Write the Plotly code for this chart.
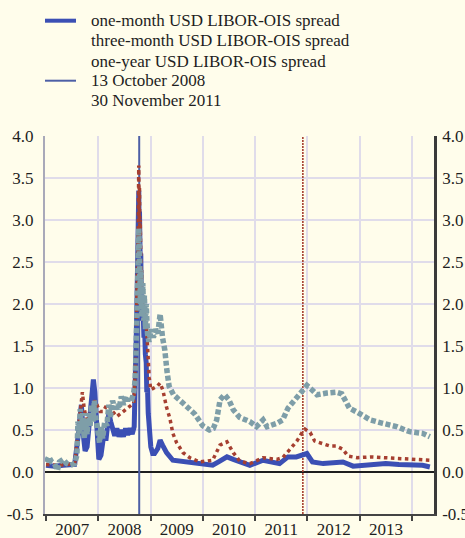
import plotly.graph_objects as go

# ---------------- data ----------------
one_month_dates = ["2007-01-01","2007-03-01","2007-05-01","2007-07-20","2007-08-08","2007-08-20","2007-09-05","2007-09-18",
    "2007-10-01","2007-10-15","2007-10-30","2007-11-10","2007-11-28","2007-12-08","2007-12-20","2008-01-05","2008-01-20",
    "2008-02-05","2008-02-25","2008-03-15","2008-03-28","2008-04-12","2008-04-25","2008-05-10","2008-05-25","2008-06-10",
    "2008-06-25","2008-07-10","2008-07-25","2008-08-10","2008-08-25","2008-09-08","2008-09-18","2008-09-26","2008-10-01",
    "2008-10-06","2008-10-08","2008-10-10","2008-10-13","2008-10-15","2008-10-20","2008-10-24","2008-10-28","2008-10-31",
    "2008-11-05","2008-11-10","2008-11-15","2008-11-20","2008-11-25","2008-12-01","2008-12-05","2008-12-10","2008-12-15",
    "2008-12-22","2009-01-02","2009-01-15","2009-01-28","2009-02-20","2009-03-08","2009-03-25",
    "2009-04-22","2009-06-05","2009-08-01","2009-10-01","2009-12-10","2010-03-10","2010-04-20","2010-06-18","2010-08-01",
    "2010-09-15","2010-11-25","2011-02-25","2011-04-15","2011-06-20","2011-08-18","2011-10-15","2011-12-28","2012-02-05",
    "2012-04-20","2012-06-15","2012-09-05","2012-11-15","2013-01-15","2013-04-01","2013-07-01","2013-10-01","2014-01-15",
    "2014-03-15","2014-05-05"]
one_month = [0.08,0.07,0.08,0.09,0.35,0.55,0.80,0.45,
    0.25,0.30,0.55,0.80,1.10,0.95,0.60,0.15,0.20,
    0.40,0.40,0.70,0.60,0.52,0.43,0.52,0.42,0.50,
    0.42,0.52,0.44,0.52,0.45,0.54,1.10,1.90,2.40,
    2.90,3.30,3.35,2.80,3.10,2.50,2.60,2.00,2.10,
    1.80,1.90,1.60,1.70,1.40,1.30,0.95,1.00,0.70,
    0.50,0.30,0.22,0.22,0.28,0.38,0.32,
    0.23,0.14,0.13,0.12,0.11,0.08,0.12,0.18,0.15,
    0.12,0.08,0.14,0.12,0.10,0.18,0.18,0.22,0.12,
    0.10,0.11,0.12,0.07,0.08,0.09,0.10,0.09,0.09,
    0.08,0.06]

three_month_dates = ["2007-01-01","2007-04-01","2007-07-20","2007-08-09","2007-08-22","2007-09-05","2007-09-12","2007-09-25",
    "2007-10-12","2007-10-25","2007-11-10","2007-11-25","2007-12-10","2007-12-28","2008-01-15","2008-02-05","2008-03-01",
    "2008-03-20","2008-04-10","2008-05-10","2008-06-10","2008-07-10","2008-08-10","2008-09-05","2008-09-17","2008-09-26",
    "2008-10-01","2008-10-03","2008-10-06","2008-10-08","2008-10-10","2008-10-13","2008-10-15","2008-10-17","2008-10-20",
    "2008-10-22","2008-10-24","2008-10-27","2008-10-31","2008-11-05","2008-11-10","2008-11-15","2008-11-20","2008-11-25",
    "2008-12-01","2008-12-08","2008-12-15","2008-12-22","2009-01-02","2009-01-20","2009-02-15","2009-03-08","2009-03-28",
    "2009-04-22","2009-05-15","2009-06-05","2009-07-01","2009-08-15","2009-10-01","2009-12-10","2010-03-10","2010-04-30",
    "2010-06-18","2010-08-01","2010-09-15","2010-11-25","2011-02-25","2011-06-01","2011-07-12","2011-09-01","2011-10-20",
    "2011-11-25","2011-12-15","2012-01-20","2012-02-20","2012-03-25","2012-06-05","2012-07-20","2012-09-05","2012-10-10",
    "2012-12-15","2013-03-15","2013-06-15","2013-09-15","2013-12-15","2014-03-15","2014-05-05"]
three_month = [0.09,0.08,0.10,0.45,0.65,0.92,0.95,0.75,
    0.62,0.65,0.75,0.80,0.85,0.78,0.72,0.72,0.80,
    0.78,0.72,0.66,0.70,0.75,0.78,0.82,1.30,1.90,
    2.40,2.90,2.60,3.30,3.65,3.00,3.40,2.80,3.00,
    2.40,2.70,2.20,2.40,1.90,2.10,1.80,1.90,1.75,
    1.80,1.50,1.30,1.12,0.98,1.00,1.02,1.06,0.97,
    0.77,0.64,0.46,0.35,0.23,0.17,0.12,0.14,0.32,
    0.36,0.23,0.13,0.10,0.17,0.15,0.17,0.27,0.37,
    0.47,0.51,0.47,0.37,0.35,0.31,0.31,0.27,0.19,
    0.17,0.18,0.17,0.16,0.16,0.15,0.14]

one_year_dates = ["2007-01-01","2007-01-20","2007-02-10","2007-03-01","2007-03-22","2007-04-05","2007-05-01","2007-05-25",
    "2007-06-20","2007-07-20","2007-08-05","2007-08-12","2007-08-20","2007-08-28","2007-09-05","2007-09-15","2007-09-25",
    "2007-10-05","2007-10-15","2007-10-25","2007-11-05","2007-11-15","2007-11-25","2007-12-05","2007-12-15","2007-12-28",
    "2008-01-10","2008-01-20","2008-02-01","2008-02-15","2008-03-01","2008-03-15","2008-03-25","2008-04-10","2008-04-25",
    "2008-05-10","2008-05-25","2008-06-10","2008-06-25","2008-07-10","2008-07-25","2008-08-10","2008-08-25","2008-09-05",
    "2008-09-15","2008-09-22","2008-09-26","2008-10-01","2008-10-03","2008-10-06","2008-10-08","2008-10-10","2008-10-13",
    "2008-10-15","2008-10-17","2008-10-20","2008-10-22","2008-10-24","2008-10-27","2008-10-29","2008-10-31","2008-11-03",
    "2008-11-05","2008-11-07","2008-11-10","2008-11-12","2008-11-14","2008-11-18","2008-11-20","2008-11-24","2008-11-26",
    "2008-12-01","2008-12-03","2008-12-05","2008-12-10","2008-12-20","2009-01-05","2009-01-20","2009-02-05","2009-02-20",
    "2009-03-08","2009-03-25","2009-04-10","2009-04-25","2009-05-10","2009-06-10","2009-07-10","2009-08-28","2009-11-05",
    "2009-12-31","2010-02-15","2010-03-15","2010-04-07","2010-05-01","2010-06-01","2010-07-01","2010-08-01","2010-09-15",
    "2010-11-25","2011-01-10","2011-02-25","2011-03-25","2011-06-01","2011-07-12","2011-08-18","2011-10-05","2011-11-10",
    "2011-12-28","2012-02-01","2012-03-08","2012-05-15","2012-07-20","2012-08-28","2012-10-05","2012-10-20","2012-12-15",
    "2013-03-15","2013-06-10","2013-09-15","2013-12-15","2014-03-15","2014-05-05"]
one_year = [0.12,0.18,0.12,0.10,0.02,0.12,0.15,0.10,
    0.08,0.10,0.20,0.60,0.45,0.75,0.50,0.70,0.40,
    0.60,0.45,0.70,0.55,0.80,0.60,0.85,0.65,0.50,
    0.35,0.55,0.40,0.60,0.55,0.80,0.65,0.85,0.75,
    0.80,0.75,0.90,0.80,0.90,0.85,0.90,0.88,0.95,
    1.10,1.50,1.70,2.00,2.50,2.20,2.70,2.90,2.30,
    2.75,2.20,2.60,2.00,2.40,1.90,2.30,1.85,2.20,
    1.90,2.25,1.85,2.20,1.80,2.10,1.75,2.00,1.70,
    2.00,1.70,1.80,1.65,1.55,1.70,1.60,1.70,1.65,
    1.88,1.60,1.45,1.20,1.02,0.92,0.88,0.80,0.69,
    0.55,0.50,0.52,0.62,0.86,0.92,0.86,0.74,0.65,
    0.60,0.54,0.62,0.54,0.58,0.62,0.76,0.86,0.92,
    1.03,0.98,0.92,0.94,0.95,0.93,0.82,0.76,0.71,
    0.62,0.58,0.54,0.48,0.46,0.42]

event_dates = ["2008-10-13", "2011-11-30"]
event_names = ["13 October 2008", "30 November 2011"]
series_names = ["one-month USD LIBOR-OIS spread", "three-month USD LIBOR-OIS spread", "one-year USD LIBOR-OIS spread"]
legend_labels = series_names + event_names

y_tick_vals = [-0.5, 0.0, 0.5, 1.0, 1.5, 2.0, 2.5, 3.0, 3.5, 4.0]
y_tick_text = ["-0.5", "0.0", "0.5", "1.0", "1.5", "2.0", "2.5", "3.0", "3.5", "4.0"]
y_range = [-0.5, 4.0]
x_range = ["2006-12-25", "2014-06-03"]

# ---------------- style ----------------
BG = "#fffdeb"
BLUE = "#3b4fb4"
RED = "#a63f30"
TEAL = "#7e9ea8"
VLINE_BLUE = "#4d5fa6"
FONT = dict(family="Liberation Serif", size=17, color="#1e1e1e")

W, H = 465, 538
ML, MR, MT, MB = 45, 31, 136, 24
PW, PH = W - ML - MR, H - MT - MB

fig = go.Figure()

# vertical event lines (behind data)
fig.add_trace(go.Scatter(x=[event_dates[0], event_dates[0]], y=y_range, mode="lines",
                         line=dict(color=VLINE_BLUE, width=2), showlegend=False, hoverinfo="skip"))
fig.add_trace(go.Scatter(x=[event_dates[1], event_dates[1]], y=y_range, mode="lines",
                         line=dict(color=RED, width=1.6, dash="2px,1px"), showlegend=False, hoverinfo="skip"))

# data series
fig.add_trace(go.Scatter(x=one_month_dates, y=one_month, mode="lines", name=series_names[0],
                         line=dict(color=BLUE, width=5), showlegend=False))
fig.add_trace(go.Scatter(x=three_month_dates, y=three_month, mode="lines", name=series_names[1],
                         line=dict(color=RED, width=3.5, dash="3.5px,3.5px"), showlegend=False))
fig.add_trace(go.Scatter(x=one_year_dates, y=one_year, mode="lines", name=series_names[2],
                         line=dict(color=TEAL, width=5.5, dash="5px,2.5px"), showlegend=False))

# a trace on the right axis so it renders
fig.add_trace(go.Scatter(x=[None], y=[None], yaxis="y2", showlegend=False, hoverinfo="skip"))

# legend (text as annotations, symbols as short lines)
legend_rows_px = [20.7, 40.7, 61.0, 80.7, 100.3]
legend_symbols = [dict(color=BLUE, width=4), None, None, dict(color=VLINE_BLUE, width=2), None]
annotations = []
shapes = []
for label, row, sym in zip(legend_labels, legend_rows_px, legend_symbols):
    yp = (H - MB - row) / PH
    annotations.append(dict(text=label, xref="paper", yref="paper", x=(89.5 - ML) / PW, y=yp,
                            xanchor="left", yanchor="middle", showarrow=False, font=FONT, borderpad=0))
    if sym is not None:
        shapes.append(dict(type="line", xref="paper", yref="paper", x0=0.0, x1=(76 - ML) / PW,
                           y0=yp, y1=yp, line=sym, layer="above"))

fig.update_layout(
    width=W, height=H,
    margin=dict(l=ML, r=MR, t=MT, b=MB, autoexpand=False),
    paper_bgcolor=BG, plot_bgcolor=BG,
    font=FONT,
    showlegend=False,
    annotations=annotations,
    shapes=shapes,
    xaxis=dict(type="date", range=x_range, dtick="M12", tick0="2007-01-01", ticklabelmode="period",
               tickformat="%Y", ticks="outside", ticklen=5, tickwidth=2, tickcolor="#444",
               showline=True, linecolor="#444", linewidth=2, automargin=False, ticklabelstandoff=-6,
               showgrid=True, gridcolor="#e0dcea", gridwidth=2, zeroline=False, tickfont=FONT),
    yaxis=dict(range=y_range, tickvals=y_tick_vals, ticktext=y_tick_text, ticks="",
               showline=True, linecolor="#a9a9b9", linewidth=2, automargin=False,
               showgrid=True, gridcolor="#e0dcea", gridwidth=2,
               zeroline=True, zerolinecolor="#1e1e1e", zerolinewidth=2,
               ticklabelstandoff=6, tickfont=FONT),
    yaxis2=dict(range=y_range, tickvals=y_tick_vals, ticktext=y_tick_text, overlaying="y", side="right",
                ticks="", showline=True, linecolor="#3a3a3a", linewidth=2.5, showgrid=False,
                automargin=False, zeroline=False, ticklabelstandoff=2, tickfont=FONT),
)

fig.write_html("out.html", config={"displayModeBar": False},
               post_script="document.body.style.margin='0px';")
